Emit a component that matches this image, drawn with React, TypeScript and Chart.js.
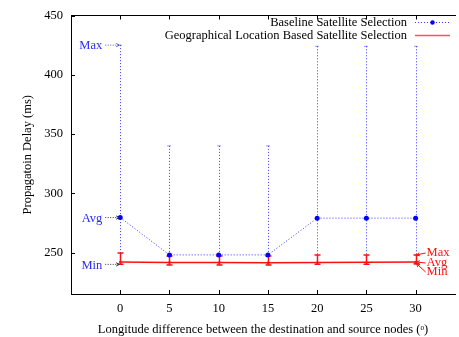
import React, { useEffect, useRef } from "react";
import { Chart, registerables } from "chart.js";
Chart.register(...registerables);

const longitudeDiff = [0, 5, 10, 15, 20, 25, 30];
const baselineAvg = [279.5, 248, 248, 248, 279, 279, 279];
const baselineMax = [425, 340, 340, 340, 424, 424, 424];
const baselineMin = [240, 240, 240, 240, 240, 240, 240];
const geoAvg = [242, 241.6, 241.5, 241.4, 241.5, 241.7, 242];
const geoMax = [249.5, 247, 247, 247, 248, 248, 248];
const geoMin = [240, 239.5, 239.5, 239.5, 240, 240, 240.5];
const xTickValues = [0, 5, 10, 15, 20, 25, 30];
const yTickValues = [250, 300, 350, 400, 450];
const seriesLabels = ["Baseline Satellite Selection", "Geographical Location Based Satellite Selection"];

const FONT = "'Liberation Serif', 'DejaVu Serif', serif";
const FS = 12.5;
const BLUE = "rgba(20,20,255,0.85)";
const BLUE_TEXT = "#2a2aff";
const RED = "#ff1010";

const errorBarsPlugin = {
  id: "errorBars",
  beforeDatasetsDraw(chart: any) {
    const ctx = chart.ctx;
    const xs = chart.scales.x;
    const ys = chart.scales.y;
    ctx.save();
    ctx.strokeStyle = BLUE;
    ctx.lineWidth = 1;
    longitudeDiff.forEach((v, i) => {
      const px = Math.round(xs.getPixelForValue(v)) + 0.5;
      const top = ys.getPixelForValue(baselineMax[i]);
      const bot = ys.getPixelForValue(baselineMin[i]);
      ctx.setLineDash([1, 2]);
      ctx.beginPath();
      ctx.moveTo(px, top);
      ctx.lineTo(px, bot);
      ctx.stroke();
      ctx.setLineDash([1, 1]);
      ctx.beginPath();
      ctx.moveTo(px - 2, top);
      ctx.lineTo(px + 2, top);
      ctx.moveTo(px - 2, bot);
      ctx.lineTo(px + 2, bot);
      ctx.stroke();
    });
    ctx.setLineDash([]);
    ctx.strokeStyle = RED;
    ctx.lineWidth = 1.5;
    longitudeDiff.forEach((v, i) => {
      const px = Math.round(xs.getPixelForValue(v)) + 0.5;
      const top = ys.getPixelForValue(geoMax[i]);
      const bot = ys.getPixelForValue(geoMin[i]);
      ctx.beginPath();
      ctx.moveTo(px, top);
      ctx.lineTo(px, bot);
      ctx.moveTo(px - 3, top);
      ctx.lineTo(px + 3, top);
      ctx.moveTo(px - 3, bot);
      ctx.lineTo(px + 3, bot);
      ctx.stroke();
    });
    ctx.restore();
  },
};

function arrow(ctx: any, x1: number, y1: number, x2: number, y2: number, dash: number[]) {
  ctx.setLineDash(dash);
  ctx.beginPath();
  ctx.moveTo(x1, y1);
  ctx.lineTo(x2, y2);
  ctx.stroke();
  ctx.setLineDash([]);
  const a = Math.atan2(y2 - y1, x2 - x1);
  const l = 3.5;
  ctx.beginPath();
  ctx.moveTo(x2 - l * Math.cos(a - 0.5), y2 - l * Math.sin(a - 0.5));
  ctx.lineTo(x2, y2);
  ctx.lineTo(x2 - l * Math.cos(a + 0.5), y2 - l * Math.sin(a + 0.5));
  ctx.stroke();
}

const decorPlugin = {
  id: "decor",
  afterDraw(chart: any) {
    const ctx = chart.ctx;
    const xs = chart.scales.x;
    const ys = chart.scales.y;
    const area = chart.chartArea;
    ctx.save();
    ctx.strokeStyle = "#000";
    ctx.lineWidth = 1;
    ctx.beginPath();
    xTickValues.forEach((v) => {
      const px = Math.round(xs.getPixelForValue(v)) + 0.5;
      ctx.moveTo(px, area.bottom);
      ctx.lineTo(px, area.bottom - 4);
      ctx.moveTo(px, area.top);
      ctx.lineTo(px, area.top + 4);
    });
    yTickValues.forEach((v) => {
      const py = Math.round(ys.getPixelForValue(v)) + 0.5;
      ctx.moveTo(area.left, py);
      ctx.lineTo(area.left + 4, py);
    });
    ctx.stroke();

    // legend
    ctx.font = `${FS}px ${FONT}`;
    ctx.textAlign = "right";
    ctx.textBaseline = "middle";
    ctx.fillStyle = "#000";
    const lx = 407;
    const sx1 = 415;
    const sx2 = 450;
    const rows = [22.5, 35.5];
    ctx.fillText(seriesLabels[0], lx, rows[0]);
    ctx.fillText(seriesLabels[1], lx, rows[1]);
    ctx.strokeStyle = BLUE;
    ctx.setLineDash([1, 2]);
    ctx.beginPath();
    ctx.moveTo(sx1, rows[0]);
    ctx.lineTo(sx2, rows[0]);
    ctx.stroke();
    ctx.setLineDash([]);
    ctx.fillStyle = "#0000ff";
    ctx.beginPath();
    ctx.arc((sx1 + sx2) / 2, rows[0], 2.2, 0, Math.PI * 2);
    ctx.fill();
    ctx.strokeStyle = "rgba(255,40,40,0.8)";
    ctx.lineWidth = 1.5;
    ctx.beginPath();
    ctx.moveTo(sx1, rows[1]);
    ctx.lineTo(sx2, rows[1]);
    ctx.stroke();

    // blue annotations at first point
    const p0 = xs.getPixelForValue(longitudeDiff[0]);
    const blueMarks = [
      ["Max", baselineMax[0]],
      ["Avg", baselineAvg[0]],
      ["Min", baselineMin[0]],
    ] as [string, number][];
    ctx.textAlign = "right";
    ctx.lineWidth = 1;
    blueMarks.forEach(([t, v], i) => {
      const py = ys.getPixelForValue(v);
      ctx.fillStyle = BLUE_TEXT;
      ctx.fillText(t, p0 - 18, py + 1);
      ctx.strokeStyle = i === 0 ? "rgba(60,60,200,0.8)" : "#333";
      arrow(ctx, p0 - 15, py, p0 - 1, py, [1, 1.5]);
    });

    // red annotations at last point
    const last = longitudeDiff.length - 1;
    const pl = xs.getPixelForValue(longitudeDiff[last]);
    const avgPy = ys.getPixelForValue(geoAvg[last]);
    const redMarks = [
      ["Max", geoMax[last], avgPy - 9],
      ["Avg", geoAvg[last], avgPy + 1],
      ["Min", geoMin[last], avgPy + 10],
    ] as [string, number, number][];
    ctx.textAlign = "left";
    ctx.fillStyle = RED;
    ctx.strokeStyle = RED;
    redMarks.forEach(([t, v, ly]) => {
      const py = ys.getPixelForValue(v);
      ctx.fillText(t, pl + 11, ly);
      arrow(ctx, pl + 10, ly, pl + 1, py, []);
    });
    ctx.restore();
  },
};

export default function App() {
  const ref = useRef<HTMLCanvasElement>(null);
  useEffect(() => {
    if (!ref.current) return;
    const chart = new Chart(ref.current, {
      type: "line",
      data: {
        datasets: [
          {
            label: seriesLabels[0],
            data: longitudeDiff.map((x, i) => ({ x, y: baselineAvg[i] })),
            borderColor: BLUE,
            borderWidth: 1,
            borderDash: [1, 2],
            backgroundColor: "#0000ff",
            pointRadius: 2.5,
            pointBorderWidth: 0,
            pointBackgroundColor: "#0000ff",
            xAxisID: "x",
            yAxisID: "y",
          },
          {
            label: seriesLabels[1],
            data: longitudeDiff.map((x, i) => ({ x, y: geoAvg[i] })),
            borderColor: RED,
            borderWidth: 1.5,
            backgroundColor: RED,
            pointRadius: 1.2,
            pointBorderWidth: 0,
            pointBackgroundColor: RED,
            xAxisID: "x",
            yAxisID: "y",
          },
        ],
      },
      options: {
        responsive: false,
        animation: false,
        layout: { padding: 0 },
        plugins: { legend: { display: false }, tooltip: { enabled: false } },
        scales: {
          x: {
            type: "linear",
            position: "bottom",
            min: -5,
            max: 34,
            afterBuildTicks: (s: any) => {
              s.ticks = xTickValues.map((value) => ({ value }));
            },
            afterFit: (s: any) => {
              s.height = 43;
            },
            ticks: { color: "#000", font: { family: FONT, size: FS }, padding: 7 },
            grid: { display: true, drawOnChartArea: false, drawTicks: false },
            border: { display: true, color: "#000", width: 1 },
            title: {
              display: true,
              text: "Longitude difference between the destination and source nodes (ᵒ)",
              color: "#000",
              font: { family: FONT, size: FS },
              padding: { top: 4, bottom: 0 },
            },
          },
          x2: {
            type: "linear",
            position: "top",
            min: -5,
            max: 34,
            afterFit: (s: any) => {
              s.height = 12;
            },
            ticks: { display: false },
            grid: { display: true, drawOnChartArea: false, drawTicks: false },
            border: { display: true, color: "#000", width: 1 },
          },
          y: {
            type: "linear",
            position: "left",
            min: 215,
            max: 450,
            afterBuildTicks: (s: any) => {
              s.ticks = yTickValues.map((value) => ({ value }));
            },
            afterFit: (s: any) => {
              s.width = 71;
            },
            ticks: { color: "#000", font: { family: FONT, size: FS }, padding: 8 },
            grid: { display: true, drawOnChartArea: false, drawTicks: false },
            border: { display: true, color: "#000", width: 1 },
            title: {
              display: true,
              text: "Propagatoin Delay (ms)",
              color: "#000",
              font: { family: FONT, size: FS },
              padding: { top: 20, bottom: 0 },
            },
          },
        },
      },
      plugins: [errorBarsPlugin, decorPlugin],
    } as any);
    return () => chart.destroy();
  }, []);
  return (
    <div style={{ position: "fixed", left: 0, top: 0, width: 459, height: 337, background: "#fff" }}>
      <canvas ref={ref} width={459} height={337} style={{ display: "block" }} />
    </div>
  );
}
